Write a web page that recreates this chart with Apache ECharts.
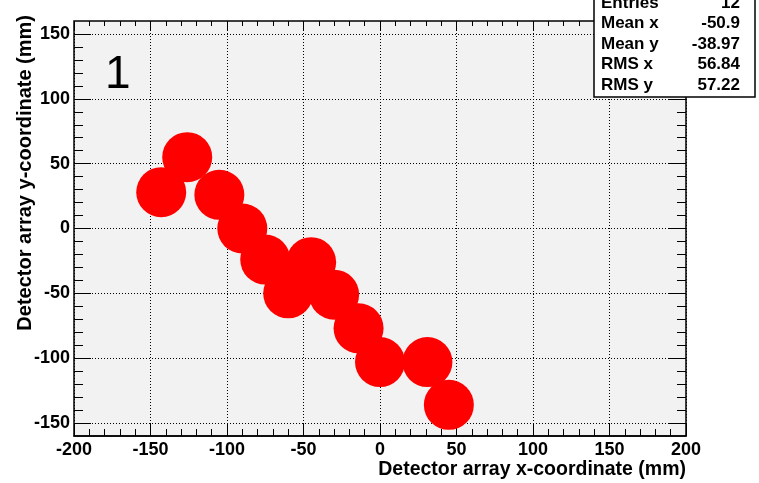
<!DOCTYPE html>
<html><head><meta charset="utf-8">
<script src="https://cdn.jsdelivr.net/npm/echarts@6/dist/echarts.min.js"></script>
<style>html,body{margin:0;padding:0;background:#fff}#c{width:759px;height:483px}</style>
</head><body><div id="c"></div>
<script>
var xs = [-143, -126, -105, -90, -75, -60, -45, -30, -14, 0, 31, 45];
var ys = [28, 55, 26, 0, -24, -50, -26, -51, -77, -103, -103, -136];
var statNames = ['Entries', 'Mean x', 'Mean y', 'RMS x', 'RMS y'];
var statValues = ['12', '-50.9', '-38.97', '56.84', '57.22'];
var xTitle = 'Detector array x-coordinate (mm)';
var yTitle = 'Detector array y-coordinate (mm)';
var padLabel = '1';

var data = xs.map(function (x, i) { return [x, ys[i]]; });
var font = 'Liberation Sans, Arial, sans-serif';
var L = 74, R = 73, T = 21, B = 47;
var chart = echarts.init(document.getElementById('c'));
var statsGraphics = [];
statsGraphics.push({type: 'rect', shape: {x: 594, y: -4, width: 161, height: 101},
  style: {fill: '#fff', stroke: '#000', lineWidth: 1.5}, z: 100});
statNames.forEach(function (n, i) {
  var y = 3 + i * 20.6;
  statsGraphics.push({type: 'text', x: 601, y: y, z: 101,
    style: {text: n, font: 'bold 17px ' + font, fill: '#000', textVerticalAlign: 'middle', textAlign: 'left'}});
  statsGraphics.push({type: 'text', x: 740, y: y, z: 101,
    style: {text: statValues[i], font: 'bold 17px ' + font, fill: '#000', textVerticalAlign: 'middle', textAlign: 'right'}});
});
var dotted = {show: true, lineStyle: {color: '#000', type: [1, 2], width: 1}};
chart.setOption({
  animation: false,
  backgroundColor: '#fff',
  grid: [
    {left: L, right: R, top: T, bottom: B, show: true, backgroundColor: '#f2f2f2', borderColor: '#000', borderWidth: 1.5, z: 0},
    {left: L, right: R, top: 34, bottom: 60, show: false, z: 1}
  ],
  xAxis: [
    {gridIndex: 0, type: 'value', min: -200, max: 200, interval: 50, position: 'bottom',
     axisLine: {show: true, onZero: false, lineStyle: {color: '#000', width: 1.5}},
     axisTick: {show: true, inside: true, length: 13, lineStyle: {color: '#000'}},
     minorTick: {show: true, splitNumber: 5, length: 7, lineStyle: {color: '#000'}},
     axisLabel: {fontFamily: font, fontWeight: 'bold', fontSize: 18, color: '#000', margin: 5},
     splitLine: dotted},
    {gridIndex: 0, type: 'value', min: -200, max: 200, interval: 50, position: 'top',
     axisLine: {show: false, onZero: false},
     axisTick: {show: true, inside: true, length: 9, lineStyle: {color: '#000'}},
     minorTick: {show: true, splitNumber: 5, length: 5, lineStyle: {color: '#000'}},
     axisLabel: {show: false}, splitLine: {show: false}},
    {gridIndex: 1, type: 'value', min: -200, max: 200, show: false, splitLine: {show: false}, axisLine: {onZero: false}}
  ],
  yAxis: [
    {gridIndex: 0, type: 'value', min: -160, max: 160, show: false, splitLine: {show: false}, axisLine: {onZero: false}},
    {gridIndex: 1, type: 'value', min: -150, max: 150, interval: 50, position: 'left',
     axisLine: {show: false, onZero: false},
     axisTick: {show: true, inside: true, length: 17, lineStyle: {color: '#000'}},
     minorTick: {show: true, splitNumber: 5, length: 9, lineStyle: {color: '#000'}},
     axisLabel: {fontFamily: font, fontWeight: 'bold', fontSize: 18, color: '#000', margin: 4},
     splitLine: dotted},
    {gridIndex: 1, type: 'value', min: -150, max: 150, interval: 50, position: 'right',
     axisLine: {show: false, onZero: false},
     axisTick: {show: true, inside: true, length: 17, lineStyle: {color: '#000'}},
     minorTick: {show: true, splitNumber: 5, length: 9, lineStyle: {color: '#000'}},
     axisLabel: {show: false}, splitLine: {show: false}}
  ],
  series: [{
    type: 'scatter', xAxisIndex: 2, yAxisIndex: 1, data: data,
    symbol: 'circle', symbolSize: 50, z: 5,
    itemStyle: {color: '#ff0000', opacity: 1}
  }],
  graphic: [
    {type: 'text', x: 105, y: 75, z: 50,
     style: {text: padLabel, font: '46px ' + font, fill: '#000', textVerticalAlign: 'middle'}},
    {type: 'text', x: 686, y: 470, z: 50,
     style: {text: xTitle, font: 'bold 19.5px ' + font, fill: '#000', textAlign: 'right', textVerticalAlign: 'middle'}},
    {type: 'text', x: 25, y: 15, rotation: Math.PI / 2, z: 50,
     style: {text: yTitle, font: 'bold 20px ' + font, fill: '#000', textAlign: 'right', textVerticalAlign: 'middle'}}
  ].concat(statsGraphics)
});
</script></body></html>
